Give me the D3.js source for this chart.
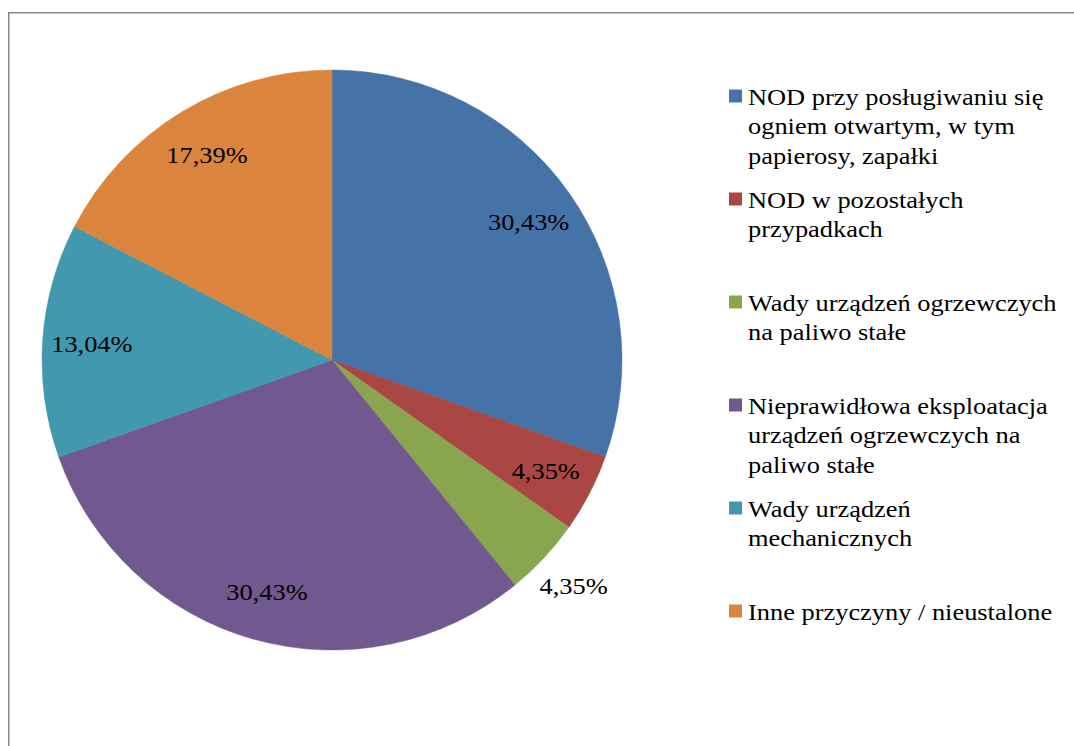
<!DOCTYPE html>
<html><head><meta charset="utf-8">
<script src="https://cdn.jsdelivr.net/npm/d3@7"></script>
<style>
html,body{margin:0;padding:0;background:#fff;}
svg{display:block;}
text{font-family:"Liberation Serif","Times New Roman",serif;fill:#000;}
</style></head>
<body>
<svg id="chart" width="1074" height="746"></svg>
<script>
// ---- data ----
const categories = [
  "NOD przy posługiwaniu się ogniem otwartym, w tym papierosy, zapałki",
  "NOD w pozostałych przypadkach",
  "Wady urządzeń ogrzewczych na paliwo stałe",
  "Nieprawidłowa eksploatacja urządzeń ogrzewczych na paliwo stałe",
  "Wady urządzeń mechanicznych",
  "Inne przyczyny / nieustalone"
];
const legendLines = [
  ["NOD przy posługiwaniu się", "ogniem otwartym, w tym", "papierosy, zapałki"],
  ["NOD w pozostałych", "przypadkach"],
  ["Wady urządzeń ogrzewczych", "na paliwo stałe"],
  ["Nieprawidłowa eksploatacja", "urządzeń ogrzewczych na", "paliwo stałe"],
  ["Wady urządzeń", "mechanicznych"],
  ["Inne przyczyny / nieustalone"]
];
const values = [30.43, 4.35, 4.35, 30.43, 13.04, 17.39];
const valueLabels = ["30,43%", "4,35%", "4,35%", "30,43%", "13,04%", "17,39%"];
const colors = ["#4572A7", "#AA4643", "#89A54E", "#71588F", "#4198AF", "#DB843D"];
const labelOutside = [false, false, true, false, false, false];

// ---- layout ----
const W = 1074, H = 746;
const cx = 332, cy = 360, R = 290;
const fontSize = 24, stretch = 1.1;

const svg = d3.select("#chart");

// frame
svg.append("rect")
  .attr("x", 8.75).attr("y", 12.75)
  .attr("width", W + 20).attr("height", H + 20)
  .attr("fill", "none").attr("stroke", "#8a8a8a").attr("stroke-width", 1.5);

const data = categories.map((c, i) => ({cat: c, value: values[i], label: valueLabels[i], color: colors[i], outside: labelOutside[i]}));

const pie = d3.pie().sort(null).value(d => d.value).startAngle(0).endAngle(2 * Math.PI);
const arc = d3.arc().innerRadius(0).outerRadius(R);
const arcs = pie(data);

const g = svg.append("g").attr("transform", `translate(${cx},${cy})`);
g.selectAll("path.slice").data(arcs).enter().append("path")
  .attr("class", "slice")
  .attr("d", arc)
  .attr("fill", d => d.data.color)
  .attr("stroke", d => d.data.color)
  .attr("stroke-width", 0.5);

const inArc = d3.arc().innerRadius(R * 0.83).outerRadius(R * 0.83);
const outArc = d3.arc().innerRadius(R * 1.14).outerRadius(R * 1.14);

g.selectAll("text.val").data(arcs).enter().append("text")
  .attr("class", "val")
  .attr("transform", d => {
    const p = (d.data.outside ? outArc : inArc).centroid(d);
    return `translate(${p[0]},${p[1]}) scale(${stretch},1)`;
  })
  .attr("text-anchor", "middle")
  .attr("dy", "0.35em")
  .style("font-size", fontSize + "px")
  .text(d => d.data.label);

// legend
const legendX = 729, sq = 13, textX = 748;
const legendY = d3.scaleLinear().domain([0, categories.length - 1]).range([105, 620]);
const lineH = 29.5;

const lg = svg.append("g");
const items = lg.selectAll("g.item").data(data).enter().append("g")
  .attr("class", "item")
  .attr("transform", (d, i) => `translate(0,${legendY(i)})`);

items.append("rect")
  .attr("x", legendX).attr("y", -15.5)
  .attr("width", sq).attr("height", sq)
  .attr("fill", d => d.color);

items.each(function(d, i) {
  const t = d3.select(this).append("text")
    .attr("transform", `translate(${textX},0) scale(${stretch},1)`)
    .style("font-size", fontSize + "px");
  legendLines[i].forEach((ln, k) => {
    t.append("tspan").attr("x", 0).attr("y", k * lineH).text(ln);
  });
});
</script>
</body></html>
